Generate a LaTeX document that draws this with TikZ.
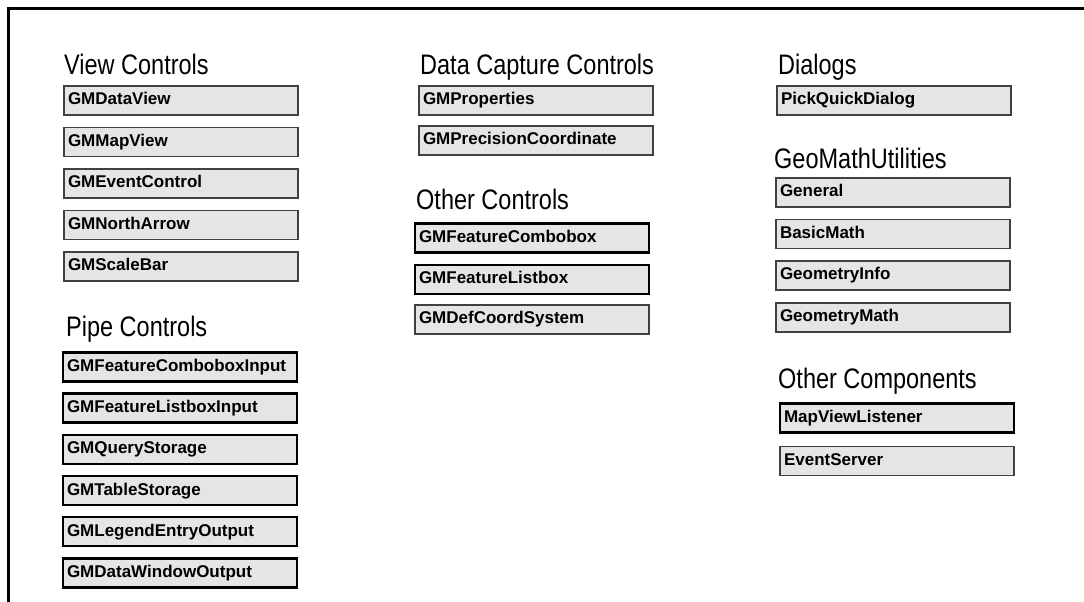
\documentclass[tikz,border=0pt]{standalone}
\usepackage{fontspec}
\setmainfont{Liberation Sans}
\usetikzlibrary{positioning}
\tikzset{%
  % Specifications for style of group titles:
   grouptitle/.style = {anchor=base west, inner sep=0pt,
                  font=\fontsize{23.5}{28}\selectfont,
                  yscale=1.2, transform shape},
  % Specifications for style of component boxes:
   control/.style = {rectangle, draw=black!75, line width=1.2pt,
                  fill=gray!20, text width=226pt, inner sep=4pt,
                  minimum height=29pt, align=left,
                  text height=13pt, text depth=4pt,
                  font=\bfseries\fontsize{17}{20}\selectfont},
   pipecontrol/.style = {control, draw=black, line width=2.4pt},
}
\begin{document}
\begin{tikzpicture}[x=1pt, y=1pt, node distance=41.5pt]
  \useasboundingbox (0,0) rectangle (1084,602);

  % Frame
  \draw[line width=3pt] (8.5,0) -- (8.5,593.5) -- (1084,593.5);

  % View controls
  \node (view_title)	[grouptitle]	at (64,527)	{View Controls};
  \node (DataView_box)	[control]	at (181,501.5)	{GMDataView};
  \node (MapView_box)	[control, below of= DataView_box]	{GMMapView};
  \node (EventControl_box)	[control, below of= MapView_box]	{GMEventControl};
  \node (NorthArrow_box)	[control, below of= EventControl_box]	{GMNorthArrow};
  \node (ScaleBar_box)	[control, below of= NorthArrow_box]	{GMScaleBar};

  % Pipe controls
  \node (pipe_title)	[grouptitle]	at (66,265)	{Pipe Controls};
  \node (ComboInput_box)	[pipecontrol]	at (180,235)	{GMFeatureComboboxInput};
  \node (ListInput_box)	[pipecontrol, below of= ComboInput_box, node distance=41.2pt]	{GMFeatureListboxInput};
  \node (QueryStorage_box)	[pipecontrol, below of= ListInput_box, node distance=41.2pt]	{GMQueryStorage};
  \node (TableStorage_box)	[pipecontrol, below of= QueryStorage_box, node distance=41.2pt]	{GMTableStorage};
  \node (LegendOutput_box)	[pipecontrol, below of= TableStorage_box, node distance=41.2pt]	{GMLegendEntryOutput};
  \node (WindowOutput_box)	[pipecontrol, below of= LegendOutput_box, node distance=41.2pt]	{GMDataWindowOutput};

  % Data capture controls
  \node (capture_title)	[grouptitle]	at (420,527)	{Data Capture Controls};
  \node (Properties_box)	[control]	at (536,501.5)	{GMProperties};
  \node (Precision_box)	[control, below of= Properties_box, node distance=40pt]	{GMPrecisionCoordinate};

  % Other controls
  \node (other_title)	[grouptitle]	at (416,392)	{Other Controls};
  \node (Combobox_box)	[pipecontrol]	at (532,364)	{GMFeatureCombobox};
  \node (Listbox_box)	[pipecontrol, below of= Combobox_box]	{GMFeatureListbox};
  \node (CoordSystem_box)	[control, below of= Listbox_box, node distance=40pt]	{GMDefCoordSystem};

  % Dialogs
  \node (dialogs_title)	[grouptitle]	at (778,527)	{Dialogs};
  \node (PickQuick_box)	[control]	at (894,501.5)	{PickQuickDialog};

  % GeoMath utilities
  \node (geomath_title)	[grouptitle]	at (774,433)	{GeoMathUtilities};
  \node (General_box)	[control]	at (893,409.5)	{General};
  \node (BasicMath_box)	[control, below of= General_box]	{BasicMath};
  \node (GeomInfo_box)	[control, below of= BasicMath_box]	{GeometryInfo};
  \node (GeomMath_box)	[control, below of= GeomInfo_box, node distance=42pt]	{GeometryMath};

  % Other components
  \node (components_title)	[grouptitle]	at (778,213)	{Other Components};
  \node (Listener_box)	[pipecontrol]	at (897,184)	{MapViewListener};
  \node (EventServer_box)	[control, below of= Listener_box, node distance=43pt]	{EventServer};

\end{tikzpicture}
\end{document}
